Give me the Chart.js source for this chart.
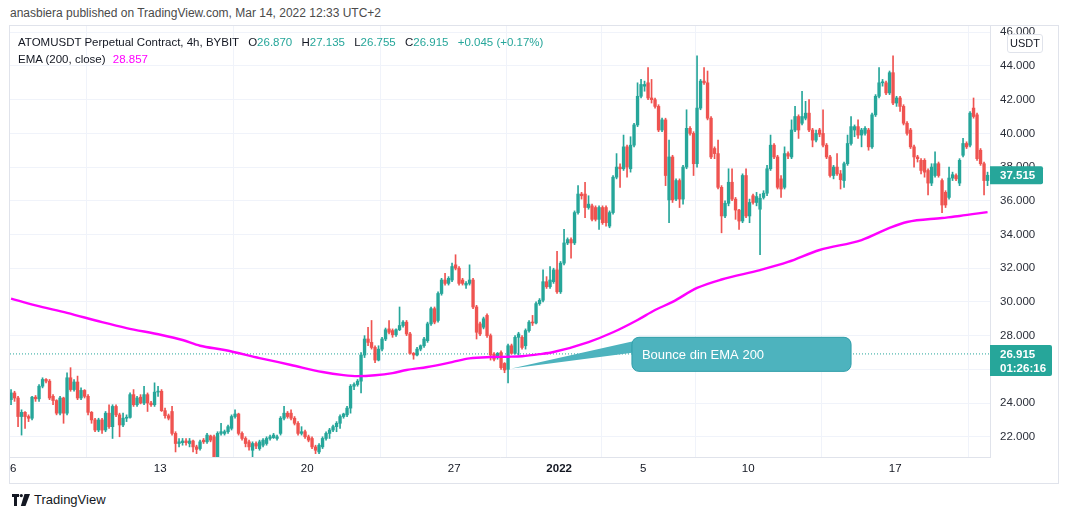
<!DOCTYPE html>
<html>
<head>
<meta charset="utf-8">
<script src="https://cdn.jsdelivr.net/npm/chart.js@4.4.1/dist/chart.umd.min.js"></script>
<style>
  body { margin: 0; background: #fff; width: 1068px; height: 519px; overflow: hidden; position: relative;
         font-family: "Liberation Sans", Arial, sans-serif; }
  #pub { position: absolute; left: 10px; top: 6px; font-size: 12px; color: #4a4a4a; white-space: nowrap; }
  #frame { position: absolute; left: 9px; top: 25px; width: 1048px; height: 457px; border: 1px solid #e0e3eb; }
  #chartWrap { position: absolute; left: 10px; top: 26px; width: 1048px; height: 457px; }
  #legend { position: absolute; left: 18px; top: 34px; font-size: 11.5px; color: #131722; line-height: 17px; white-space: nowrap; }
  #legend .v { color: #26a69a; }
  #legend .g { margin-left: 6px; }
  #legend .ema { color: #f0f; margin-left: 4px; }
  #unit { position: absolute; left: 1007px; top: 34px; width: 34px; height: 17px; background: #fff; border: 1px solid #e0e3eb;
          border-radius: 3px; font-size: 11px; color: #131722; text-align: center; line-height: 17px; }
  #brand { position: absolute; left: 12px; top: 492px; display: flex; align-items: center; font-size: 13px; color: #131722; }
  #brand svg { margin-right: 4px; }
</style>
</head>
<body>
<div id="pub">anasbiera published on TradingView.com, Mar 14, 2022 12:33 UTC+2</div>
<div id="frame"></div>
<div id="chartWrap"><canvas id="chart" width="1048" height="457"></canvas></div>
<div id="legend">
  <div>ATOMUSDT Perpetual Contract, 4h, BYBIT
    <span class="g">O<span class="v">26.870</span></span>
    <span class="g">H<span class="v">27.135</span></span>
    <span class="g">L<span class="v">26.755</span></span>
    <span class="g">C<span class="v">26.915</span></span>
    <span class="g v">+0.045 (+0.17%)</span></div>
  <div>EMA (200, close) <span class="ema">28.857</span></div>
</div>
<div id="unit">USDT</div>
<div id="brand">
  <svg width="18" height="12" viewBox="0 0 18 12"><path d="M0 0h7v3H5v9H2V3H0z" fill="#131722"/><circle cx="9.3" cy="1.6" r="1.6" fill="#131722"/><path d="M12.5 0H18l-4.5 12H8.8z" fill="#131722"/></svg>
  TradingView
</div>
<script>
// 4h candles, Dec 6 2021 -> Jan 21 2022
const opens = [
  24.2, 24.6, 24.3, 23.2, 23.45, 23.2, 23.1, 24.35, 24.25, 25.0,
  25.4, 25.3, 24.4, 24.15, 23.4, 24.3, 23.4, 25.5, 24.8, 25.25,
  24.3, 24.75, 24.4, 23.45, 23.0, 22.4, 23.0, 22.4, 23.4, 22.6,
  23.8, 23.3, 22.7, 23.1, 23.15, 24.5, 23.9, 24.35, 24.0, 24.5,
  24.0, 23.9, 24.65, 24.7, 23.55, 23.25, 23.5, 22.2, 21.6, 21.65,
  21.75, 21.6, 21.75, 21.4, 21.3, 21.8, 21.7, 22.05, 22.0, 20.8,
  22.2, 22.2, 22.3, 22.5, 23.2, 23.35, 22.2, 21.9, 21.7, 21.2,
  21.6, 21.3, 21.5, 21.6, 21.9, 21.95, 21.9, 22.2, 23.1, 23.4,
  23.4, 23.1, 22.8, 22.2, 22.3, 22.0, 21.9, 21.4, 21.1, 21.4,
  21.9, 22.2, 22.4, 22.6, 22.8, 23.2, 23.3, 23.7, 25.0, 25.1,
  25.3, 26.85, 27.8, 27.6, 27.3, 26.55, 27.2, 27.8, 28.4, 28.3,
  28.05, 28.35, 28.6, 28.8, 28.1, 26.95, 26.85, 27.2, 27.4, 27.7,
  28.7, 29.6, 28.9, 30.5, 31.3, 31.1, 31.3, 32.2, 32.0, 31.3,
  31.0, 31.1, 31.3, 29.7, 28.7, 28.5, 29.2, 28.0, 26.9, 26.7,
  27.0, 26.35, 26.0, 27.4, 26.95, 27.9, 27.9, 27.4, 28.3, 28.8,
  28.75, 29.9, 30.1, 31.2, 30.9, 31.2, 31.9, 30.6, 32.3, 33.5,
  33.7, 33.5, 35.3, 36.4, 36.4, 35.6, 35.7, 35.6, 34.9, 35.6,
  35.6, 34.5, 35.3, 37.4, 38.0, 37.9, 39.2, 37.9, 39.3, 40.5,
  42.2, 42.8, 43.0, 42.1, 42.0, 41.6, 40.2, 40.8, 36.05, 38.6,
  36.1, 37.2, 36.1, 38.0, 40.3, 40.0, 38.2, 41.5, 43.1, 43.0,
  40.9, 39.1, 38.8, 36.8, 35.1, 35.85, 37.1, 36.1, 35.45, 34.8,
  37.5, 35.1, 36.3, 35.9, 35.5, 36.2, 36.45, 37.9, 39.3, 38.6,
  37.3, 36.8, 38.8, 38.6, 40.2, 41.0, 40.6, 40.9, 41.2, 40.2,
  39.6, 40.2, 40.0, 39.3, 38.6, 37.5, 38.0, 37.6, 37.2, 38.2,
  39.4, 40.2, 40.4, 39.9, 40.0, 40.2, 39.2, 41.1, 42.2, 43.0,
  43.0, 42.4, 43.6, 41.8, 42.1, 41.6, 40.6, 40.2, 39.2, 38.6,
  38.4, 38.4, 37.8, 37.05, 37.5, 38.2, 37.2, 36.5, 36.2, 37.35,
  37.5, 37.05, 38.7, 39.4, 39.3, 41.5, 41.1, 39.0, 38.2, 37.2
];
const highs = [
  24.8, 24.7, 24.4, 23.6, 23.5, 23.3, 24.4, 24.45, 25.1, 25.5,
  25.45, 25.4, 24.5, 24.2, 24.4, 24.35, 25.8, 26.1, 25.4, 25.6,
  24.9, 24.8, 24.5, 23.5, 23.1, 23.1, 23.1, 23.5, 23.9, 23.9,
  23.9, 23.4, 23.4, 23.3, 24.6, 24.8, 24.4, 24.5, 25.0, 24.6,
  24.1, 25.2, 25.0, 24.8, 23.7, 23.35, 23.8, 22.3, 21.9, 21.9,
  21.9, 21.9, 21.8, 21.5, 21.8, 21.9, 22.2, 22.1, 22.1, 22.3,
  22.8, 22.4, 22.7, 23.3, 23.6, 23.4, 22.3, 22.0, 21.8, 21.7,
  21.7, 21.8, 21.9, 22.0, 22.1, 22.2, 22.1, 23.2, 23.8, 23.5,
  23.6, 23.2, 22.9, 22.6, 22.4, 22.1, 22.0, 21.5, 21.6, 22.0,
  22.3, 22.5, 22.7, 22.9, 23.3, 23.4, 23.8, 25.1, 25.2, 25.4,
  27.0, 28.0, 28.5, 28.9, 27.4, 27.4, 27.9, 28.45, 28.9, 28.4,
  28.4, 29.7, 28.9, 28.9, 28.2, 27.0, 27.3, 27.45, 27.9, 28.8,
  29.7, 29.7, 30.6, 31.4, 31.7, 31.5, 32.3, 32.8, 32.1, 31.4,
  31.2, 32.2, 31.4, 29.8, 28.8, 29.1, 29.3, 28.1, 27.0, 27.0,
  27.1, 26.4, 27.5, 27.5, 28.0, 28.2, 28.0, 28.4, 28.9, 29.2,
  30.0, 30.2, 31.9, 31.5, 32.1, 32.0, 33.0, 32.4, 34.3, 33.8,
  33.8, 35.4, 36.9, 36.5, 37.1, 36.3, 35.8, 35.7, 35.7, 35.7,
  35.7, 35.4, 37.5, 38.8, 38.2, 39.9, 39.3, 39.8, 40.6, 43.0,
  43.2, 43.1, 43.9, 43.2, 42.1, 41.7, 40.9, 40.9, 39.6, 38.7,
  37.3, 37.3, 38.1, 41.4, 40.4, 40.1, 44.6, 43.2, 43.9, 43.7,
  41.0, 39.2, 39.6, 36.9, 36.0, 37.9, 37.9, 36.2, 35.5, 37.6,
  37.9, 36.1, 36.4, 36.5, 36.4, 36.6, 38.1, 39.9, 39.4, 38.7,
  37.5, 39.2, 38.9, 40.8, 41.6, 41.1, 42.5, 41.9, 42.0, 40.3,
  40.2, 40.3, 41.4, 39.4, 38.7, 38.1, 38.8, 37.8, 38.3, 39.9,
  41.0, 40.5, 40.8, 40.3, 40.4, 40.3, 41.2, 42.3, 43.9, 43.2,
  43.1, 43.7, 44.6, 42.2, 42.2, 41.7, 40.7, 40.3, 39.3, 38.7,
  38.5, 38.5, 37.9, 38.2, 38.9, 38.3, 37.3, 36.6, 38.0, 37.7,
  37.6, 38.5, 39.7, 39.5, 41.3, 42.1, 41.2, 39.1, 38.3, 37.7
];
const lows = [
  23.9, 24.1, 22.6, 22.1, 22.5, 22.9, 23.0, 24.1, 24.1, 24.9,
  25.2, 24.2, 23.9, 23.3, 23.3, 22.8, 23.3, 24.7, 24.7, 24.2,
  24.2, 24.3, 23.3, 22.8, 22.3, 22.3, 22.2, 22.3, 22.5, 21.9,
  23.2, 22.0, 22.6, 22.9, 23.1, 23.8, 23.8, 23.95, 23.9, 23.5,
  23.8, 23.8, 24.4, 23.5, 23.1, 23.0, 22.1, 21.1, 21.4, 21.5,
  21.5, 21.4, 21.1, 21.0, 21.2, 21.6, 21.6, 21.7, 20.7, 20.7,
  22.1, 22.1, 22.2, 22.4, 23.1, 22.1, 21.8, 21.4, 21.2, 20.8,
  21.3, 21.2, 21.4, 21.5, 21.8, 21.9, 21.8, 22.1, 23.0, 23.1,
  23.0, 22.7, 22.1, 22.1, 21.9, 21.7, 21.3, 21.0, 21.0, 21.3,
  21.8, 21.9, 22.3, 22.3, 22.5, 23.1, 23.2, 23.4, 24.8, 25.0,
  24.6, 26.7, 27.4, 27.2, 26.4, 26.5, 27.1, 27.7, 28.1, 27.9,
  27.95, 28.3, 28.5, 28.0, 26.9, 26.6, 26.8, 27.1, 27.3, 27.6,
  28.6, 28.7, 28.8, 30.4, 31.0, 31.0, 31.2, 31.9, 31.0, 31.0,
  30.8, 31.0, 29.6, 27.8, 28.0, 28.4, 27.9, 26.55, 26.5, 26.6,
  26.0, 25.8, 25.2, 26.9, 26.9, 26.85, 27.2, 27.2, 28.2, 28.6,
  28.7, 29.8, 30.0, 30.8, 30.8, 31.1, 30.5, 30.5, 32.2, 33.4,
  32.6, 33.4, 35.2, 36.1, 35.0, 35.5, 34.8, 34.8, 34.3, 34.6,
  34.5, 34.4, 35.2, 37.3, 36.8, 37.8, 37.4, 37.7, 39.2, 40.4,
  42.1, 42.5, 42.0, 41.8, 41.5, 40.1, 40.1, 36.9, 34.7, 35.9,
  36.0, 35.6, 35.8, 37.9, 39.9, 37.5, 38.0, 41.4, 42.9, 40.8,
  38.5, 38.5, 36.7, 34.1, 35.0, 35.7, 36.0, 34.9, 34.3, 34.7,
  35.0, 34.7, 35.8, 35.7, 32.8, 36.1, 36.3, 37.8, 38.5, 36.7,
  36.2, 36.7, 38.5, 38.5, 40.1, 39.7, 40.5, 40.8, 40.1, 39.2,
  39.5, 39.8, 39.2, 38.5, 37.4, 37.3, 37.5, 36.7, 36.8, 38.1,
  39.3, 39.8, 39.7, 39.2, 39.9, 39.0, 39.1, 41.0, 42.1, 42.8,
  42.3, 42.3, 41.7, 41.6, 41.3, 40.5, 39.9, 39.1, 38.0, 38.3,
  37.6, 37.4, 36.35, 36.9, 37.4, 37.4, 35.3, 35.6, 36.1, 37.2,
  37.2, 36.9, 38.6, 39.1, 39.2, 40.9, 38.4, 38.1, 36.35, 36.9
];
const closes = [
  24.6, 24.3, 23.2, 23.45, 23.2, 23.1, 24.35, 24.25, 25.0, 25.4,
  25.3, 24.3, 24.15, 23.4, 24.3, 23.4, 25.5, 24.8, 25.25, 24.3,
  24.75, 24.4, 23.45, 23.0, 22.4, 23.0, 22.4, 23.4, 22.6, 23.8,
  23.3, 22.7, 23.1, 23.15, 24.5, 23.9, 24.3, 24.0, 24.5, 24.0,
  23.9, 24.65, 24.7, 23.55, 23.25, 23.1, 22.2, 21.6, 21.7, 21.75,
  21.65, 21.75, 21.4, 21.25, 21.7, 21.7, 22.1, 21.8, 20.8, 22.2,
  22.3, 22.3, 22.6, 23.2, 23.35, 22.2, 21.9, 21.6, 21.4, 21.6,
  21.45, 21.7, 21.8, 21.9, 22.0, 22.1, 22.0, 23.1, 23.4, 23.2,
  23.1, 22.8, 22.2, 22.3, 22.0, 21.8, 21.4, 21.2, 21.5, 21.9,
  22.2, 22.4, 22.6, 22.8, 23.2, 23.35, 23.7, 25.0, 25.1, 25.3,
  26.85, 27.8, 27.6, 27.3, 26.55, 27.2, 27.8, 28.35, 28.2, 28.05,
  28.35, 28.6, 28.8, 28.1, 26.95, 26.85, 27.2, 27.4, 27.8, 28.7,
  29.6, 28.8, 30.5, 31.3, 31.1, 31.4, 32.1, 32.0, 31.1, 31.1,
  31.1, 31.3, 29.7, 28.2, 28.1, 29.0, 28.0, 26.85, 26.6, 26.95,
  26.1, 25.96, 27.4, 26.95, 27.9, 28.1, 27.3, 28.3, 28.8, 28.75,
  29.9, 30.1, 31.2, 30.9, 31.3, 31.9, 30.6, 32.3, 33.5, 33.7,
  33.5, 35.3, 36.4, 36.3, 35.6, 35.8, 34.9, 34.9, 35.6, 34.7,
  34.7, 35.3, 37.4, 38.0, 37.9, 39.2, 38.0, 39.3, 40.5, 42.2,
  42.9, 42.9, 42.1, 42.0, 41.6, 40.2, 40.8, 37.5, 38.6, 36.05,
  37.2, 36.1, 38.0, 40.3, 40.0, 38.2, 41.5, 43.1, 43.0, 40.9,
  38.6, 38.8, 36.8, 35.1, 35.85, 37.1, 36.1, 35.45, 34.8, 37.5,
  35.1, 35.9, 35.9, 36.25, 36.15, 36.45, 37.9, 39.3, 38.6, 36.8,
  36.7, 38.8, 38.65, 40.2, 41.0, 40.2, 41.0, 41.2, 40.2, 39.6,
  40.0, 39.95, 39.3, 38.6, 37.5, 38.0, 37.6, 37.25, 38.2, 39.4,
  40.4, 40.4, 39.9, 40.2, 40.3, 39.2, 41.1, 42.2, 43.0, 43.05,
  42.4, 43.6, 41.8, 42.1, 41.6, 40.6, 40.0, 39.2, 38.6, 38.5,
  37.8, 37.7, 37.05, 38.0, 38.2, 37.5, 35.75, 35.75, 37.35, 37.55,
  37.3, 38.4, 39.4, 39.2, 41.2, 41.0, 38.5, 38.2, 37.2, 37.515
];

// EMA (200, close), read at candle indices
const emaIdx = [0, 7, 16, 26, 33, 43, 49, 54, 61, 71, 80, 89, 95, 99, 104, 109, 113, 119, 126, 131,
  137, 142, 146, 151, 155, 165, 172, 179, 184, 189, 196, 203, 214, 222, 231, 243, 251, 256, 266, 271, 279];
const emaVals = [30.2, 29.8, 29.35, 28.8, 28.45, 28.04, 27.74, 27.4, 27.15, 26.67, 26.26, 25.84, 25.66, 25.6, 25.65,
  25.78, 25.96, 26.14, 26.43, 26.65, 26.73, 26.75, 26.78, 26.9, 27.03, 27.62, 28.2, 28.93, 29.52, 30.0,
  30.83, 31.33, 31.89, 32.37, 33.08, 33.67, 34.39, 34.74, 34.98, 35.1, 35.33];

const tickIdx = [0.6, 42.6, 84.6, 126.6, 156.6, 180.6, 210.6, 252.6];
const tickLabels = ["6", "13", "20", "27", "2022", "5", "10", "17"];
const yTicks = [22, 24, 26, 28, 30, 32, 34, 36, 38, 40, 42, 44, 46];

const lastPrice = 37.515;
const curPrice = 26.915;
const curTimer = "01:26:16";

const GREEN = "#26a69a";
const RED = "#ef5350";
const FONT = '"Liberation Sans", Arial, sans-serif';

const candleColors = closes.map((c, i) => (c >= opens[i] ? GREEN : RED));
const wickData = highs.map((h, i) => ({ x: i, y: [lows[i], h] }));
const bodyData = opens.map((o, i) => ({ x: i, y: [o, closes[i]] }));
const emaData = emaIdx.map((x, k) => ({ x: x, y: emaVals[k] }));

const overlay = {
  id: "overlay",
  afterDraw(chart) {
    const { ctx, chartArea, scales } = chart;
    const x = scales.x;
    const y = scales.y;

    // callout "Bounce din EMA 200"
    const bx1 = x.getPixelForValue(177.4), bx2 = x.getPixelForValue(240);
    const by1 = y.getPixelForValue(27.9), by2 = y.getPixelForValue(25.88);
    const tipX = x.getPixelForValue(143), tipY = y.getPixelForValue(26.05);
    ctx.save();
    ctx.fillStyle = "#4db3be";
    ctx.strokeStyle = "#2f9eaa";
    ctx.lineWidth = 1;
    ctx.beginPath();
    ctx.moveTo(tipX, tipY);
    ctx.lineTo(bx1 + 8, y.getPixelForValue(27.75));
    ctx.lineTo(bx1 + 8, y.getPixelForValue(27.05));
    ctx.closePath();
    ctx.fill();
    ctx.beginPath();
    ctx.roundRect(bx1, by1, bx2 - bx1, by2 - by1, 7);
    ctx.fill();
    ctx.stroke();
    ctx.fillStyle = "#ffffff";
    ctx.font = "13px " + FONT;
    ctx.textBaseline = "middle";
    ctx.fillText("Bounce din EMA 200", bx1 + 10, (by1 + by2) / 2 + 1);

    // price tags on the axis
    const ax = chartArea.right;
    let py = y.getPixelForValue(lastPrice);
    ctx.fillStyle = GREEN;
    ctx.beginPath();
    ctx.roundRect(ax, py - 9, 53, 18, [0, 2, 2, 0]);
    ctx.fill();
    ctx.fillStyle = "#ffffff";
    ctx.font = "bold 11.5px " + FONT;
    ctx.fillText(lastPrice.toFixed(3), ax + 10, py + 1);

    py = y.getPixelForValue(curPrice);
    ctx.fillStyle = GREEN;
    ctx.beginPath();
    ctx.roundRect(ax, py - 9, 62, 31, [0, 2, 2, 0]);
    ctx.fill();
    ctx.fillStyle = "#ffffff";
    ctx.fillText(curPrice.toFixed(3), ax + 10, py + 1);
    ctx.fillText(curTimer, ax + 10, py + 15);
    ctx.restore();
  }
};

new Chart(document.getElementById("chart"), {
  type: "bar",
  data: {
    datasets: [
      {
        type: "line",
        data: emaData,
        borderColor: "#f0f",
        borderWidth: 2.4,
        pointRadius: 0,
        cubicInterpolationMode: "monotone",
        order: 0
      },
      {
        data: bodyData,
        backgroundColor: candleColors,
        barThickness: 2.7,
        minBarLength: 1,
        grouped: false,
        order: 1
      },
      {
        data: wickData,
        backgroundColor: candleColors,
        barThickness: 1,
        grouped: false,
        order: 2
      },
      {
        type: "line",
        data: [{ x: -0.3, y: curPrice }, { x: 279.7, y: curPrice }],
        borderColor: GREEN,
        borderWidth: 1,
        borderDash: [1, 2],
        pointRadius: 0,
        order: 3
      }
    ]
  },
  options: {
    responsive: false,
    animation: false,
    events: [],
    layout: { padding: 0 },
    plugins: { legend: { display: false }, tooltip: { enabled: false } },
    scales: {
      x: {
        type: "linear",
        min: -0.3,
        max: 279.7,
        offset: false,
        afterBuildTicks: (s) => { s.ticks = tickIdx.map((v) => ({ value: v })); },
        afterFit: (s) => { s.height = 26; s.paddingLeft = 0; s.paddingRight = 0; },
        ticks: {
          autoSkip: false,
          maxRotation: 0,
          padding: 5,
          color: "#131722",
          font: (c) => ({ family: FONT, size: 11.5, weight: tickLabels[c.index] === "2022" ? "bold" : "normal" }),
          callback: (v, i) => tickLabels[i]
        },
        grid: { color: "#f0f3fa", drawTicks: false },
        border: { display: true, color: "#e0e3eb" }
      },
      y: {
        position: "right",
        min: 20.8,
        max: 46.37,
        afterBuildTicks: (s) => { s.ticks = yTicks.map((v) => ({ value: v })); },
        afterFit: (s) => { s.width = 68; s.paddingTop = 0; s.paddingBottom = 0; },
        ticks: {
          padding: 10,
          color: "#2a2e39",
          font: { family: FONT, size: 11.5 },
          callback: (v) => Number(v).toFixed(3)
        },
        grid: { color: "#f0f3fa", drawTicks: false },
        border: { display: true, color: "#e0e3eb" }
      }
    }
  },
  plugins: [overlay]
});
</script>
</body>
</html>
